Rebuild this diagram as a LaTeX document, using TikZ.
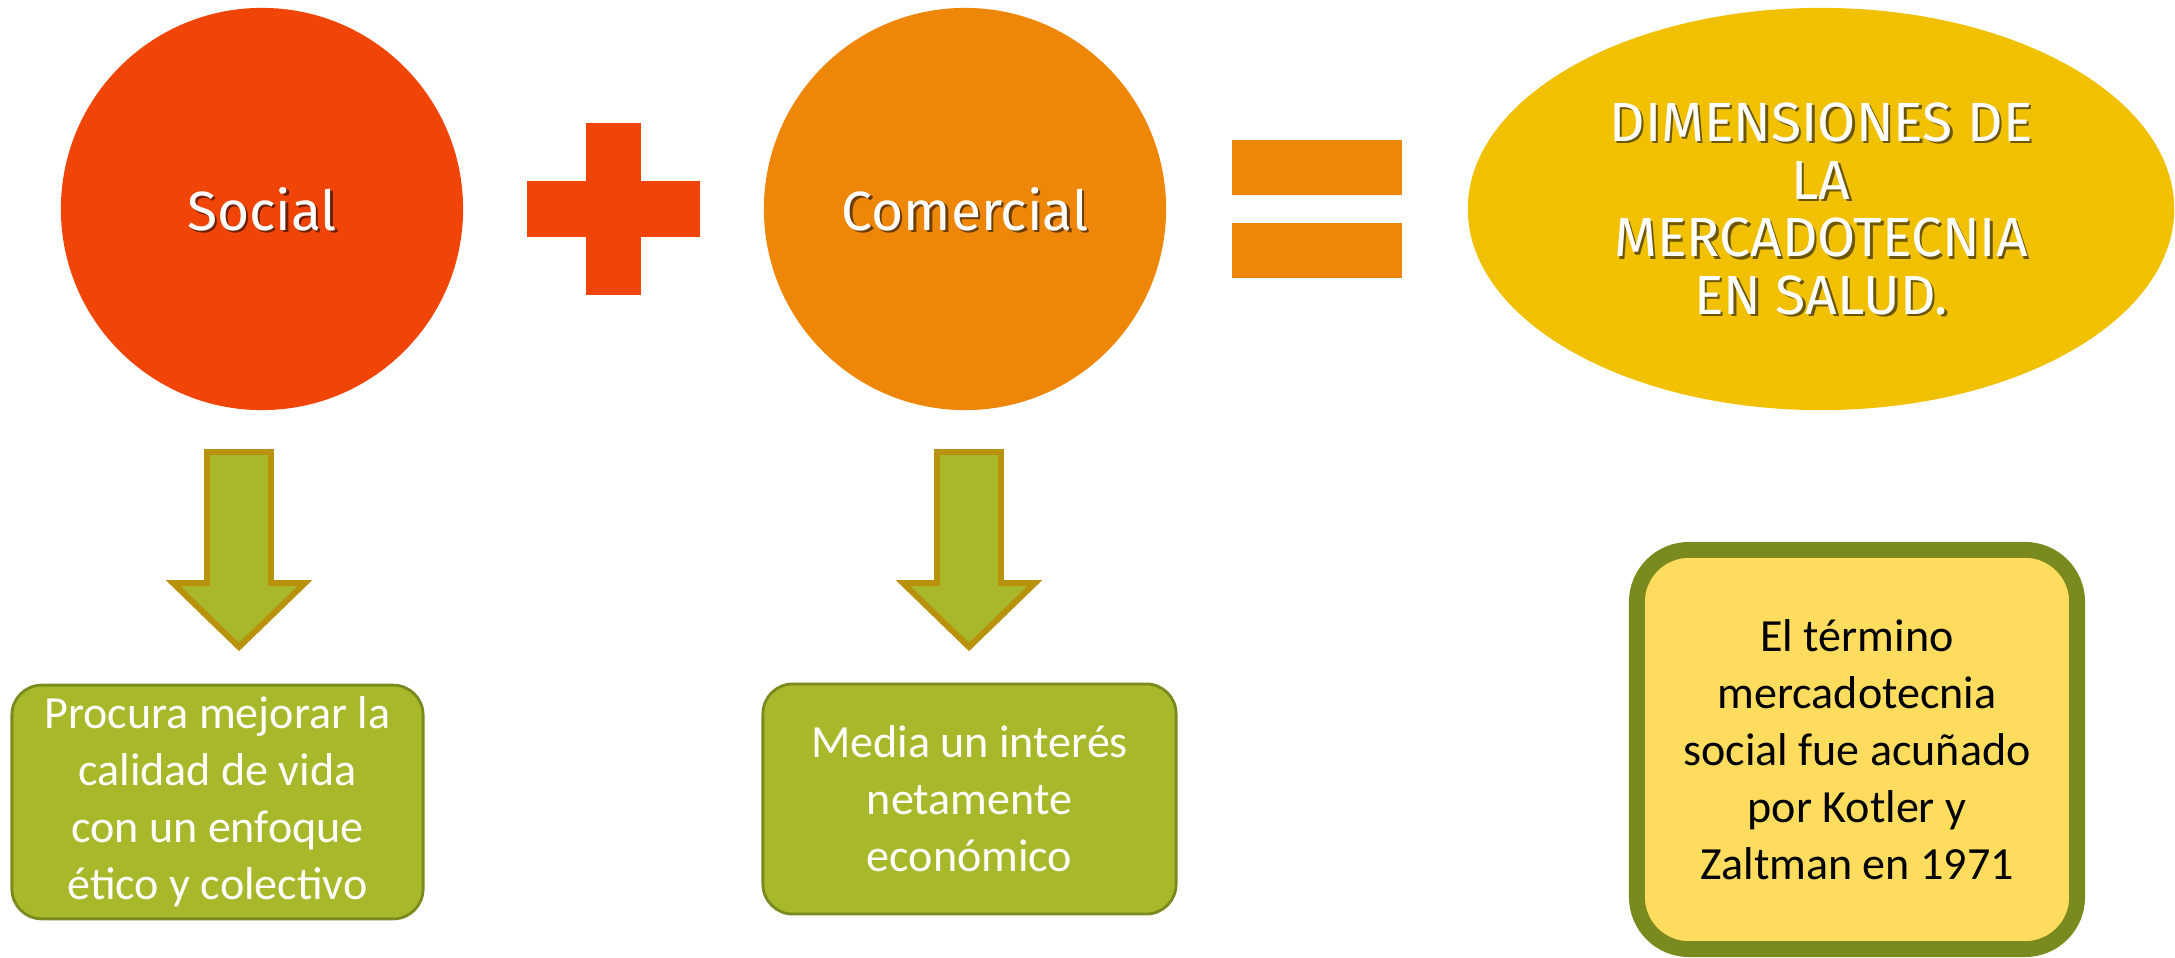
\documentclass[tikz,border=0pt]{standalone}
\usepackage{fontspec}
\setmainfont{Carlito}
\newfontfamily\dinfont{Fira Sans}
\usepackage{tikz}
\usetikzlibrary{shapes.geometric, positioning, calc}
\definecolor{SocialRed}{HTML}{F04506}
\definecolor{TradeOrange}{HTML}{EE8707}
\definecolor{Mustard}{HTML}{F1C100}
\definecolor{Olive}{HTML}{A8B82A}
\definecolor{OliveDark}{HTML}{7A8A1E}
\definecolor{Goldenrod}{HTML}{B8920A}
\definecolor{Butter}{HTML}{FEDC5E}

\begin{document}
\begin{tikzpicture}[x=0.01cm, y=-0.01cm,
    title/.style={text=white, font=\dinfont\fontsize{15.7}{16.4}\selectfont, align=center},
    shadowed/.style={path picture={
        \node[title, text=black, text opacity=0.55, xshift=0.7pt, yshift=-0.7pt]
            at (path picture bounding box.center) {#1};}},
    greenbox/.style={rectangle, rounded corners=8.5pt, fill=Olive, draw=OliveDark,
        line width=0.8pt, minimum width=4.11cm, minimum height=2.28cm, text=white,
        font=\fontsize{13.1}{16.2}\selectfont, align=center}]
    \useasboundingbox (0,0) rectangle (2175,957);

    % Circles and ellipse
    \node[circle, fill=SocialRed, minimum size=4.02cm, title, shadowed={Social}]
        (social) at (262,209) {Social};
    \node[circle, fill=TradeOrange, minimum size=4.02cm, title, shadowed={Comercial}]
        (comercial) at (965,209) {Comercial};
    \node[ellipse, fill=Mustard, minimum width=7.06cm, minimum height=4.02cm, title,
          shadowed={DIMENSIONES DE\\LA\\MERCADOTECNIA\\EN SALUD.}]
        (dimensiones) at (1821,209) {DIMENSIONES DE\\LA\\MERCADOTECNIA\\EN SALUD.};

    % Plus and equals signs
    \fill[SocialRed] (586,123) rectangle (641,295);
    \fill[SocialRed] (527,181) rectangle (700,237);
    \foreach \y in {140, 223} {
        \fill[TradeOrange] (1232,\y) rectangle (1402,\y+55);
    }

    % Block arrows
    \foreach \cx in {239, 969} {
        \draw[Goldenrod, fill=Olive, line width=1.7pt, line join=miter]
            (\cx-32,452) -- (\cx+32,452) -- (\cx+32,583) -- (\cx+66,583)
            -- (\cx,647) -- (\cx-66,583) -- (\cx-32,583) -- cycle;
    }

    % Description boxes
    \node[greenbox] (procura) at (217.5,802)
        {Procura mejorar la\\calidad de vida\\con un enfoque\\ético y colectivo};
    \node[greenbox, minimum width=4.13cm, minimum height=2.3cm] (media) at (969.5,799)
        {Media un interés\\netamente\\económico};
    \node[rectangle, rounded corners=0.52cm, fill=Butter, draw=OliveDark,
          line width=4.5pt, minimum width=4.4cm, minimum height=3.99cm,
          font=\fontsize{13.1}{16.2}\selectfont, align=center]
        (kotler) at (1857,749.5)
        {El término\\mercadotecnia\\social fue acuñado\\por Kotler y\\Zaltman en 1971};
\end{tikzpicture}
\end{document}
